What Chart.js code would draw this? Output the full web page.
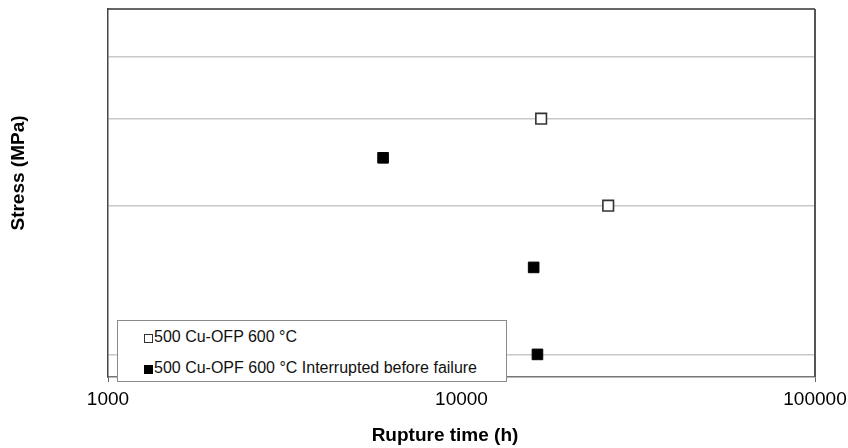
<!DOCTYPE html>
<html>
<head>
<meta charset="utf-8">
<script src="https://cdn.jsdelivr.net/npm/chart.js@4/dist/chart.umd.min.js"></script>
<style>
  body { margin: 0; background: #fff; }
  #wrap { position: relative; width: 848px; height: 448px; overflow: hidden; }
  #legend {
    position: absolute; left: 117px; top: 320px; width: 390px; height: 62px;
    box-sizing: border-box; border: 1px solid #8a8a8a; background: #fff;
    font: 16px "Liberation Sans", Arial, sans-serif; color: #111;
  }
  .item { position: absolute; left: 26px; height: 20px; line-height: 20px; white-space: nowrap; }
  .sym { display: inline-block; width: 9px; height: 9px; box-sizing: border-box; margin-right: 1px; vertical-align: -1px; }
  .open { border: 1px solid #333; background: #fff; }
  .filled { background: #000; }
</style>
</head>
<body>
<div id="wrap">
  <canvas id="c" width="848" height="448"></canvas>
  <div id="legend">
    <div class="item" style="top:6px"><span class="sym open"></span>500 Cu-OFP 600 °C</div>
    <div class="item" style="top:37px"><span class="sym filled"></span>500 Cu-OPF 600 °C Interrupted before failure</div>
  </div>
</div>
<script>
// rupture time (h) vs stress (MPa)
const ofpTime = [16800, 26000];
const ofpStress = [150, 100];
const interruptedTime = [6000, 16000, 16400];
const interruptedStress = [125, 75, 50];

const xTicks = [1000, 10000, 100000];
const yGrid = [50, 100, 150, 200];

const FONT = '"Liberation Sans", Arial, sans-serif';

// axis titles and the frame are drawn by hand to match the original layout
const framePlugin = {
  id: 'frame',
  afterDraw(chart) {
    const { ctx, chartArea: a } = chart;
    ctx.save();
    ctx.strokeStyle = '#333';
    ctx.lineWidth = 1.5;
    ctx.beginPath();
    ctx.moveTo(a.left, a.top);
    ctx.lineTo(a.right, a.top);
    ctx.stroke();
    ctx.strokeStyle = '#555';
    ctx.lineWidth = 2;
    ctx.beginPath();
    ctx.moveTo(a.right, a.top);
    ctx.lineTo(a.right, a.bottom);
    ctx.stroke();

    ctx.fillStyle = '#000';
    ctx.font = 'bold 19px ' + FONT;
    ctx.textAlign = 'center';
    ctx.textBaseline = 'middle';
    ctx.fillText('Rupture time (h)', 445, 436);
    ctx.translate(19, 173);
    ctx.rotate(-Math.PI / 2);
    ctx.fillText('Stress (MPa)', 0, 0);
    ctx.restore();
  }
};

new Chart(document.getElementById('c'), {
  type: 'scatter',
  data: {
    datasets: [
      {
        label: '500 Cu-OFP 600 °C',
        data: ofpTime.map((t, i) => ({ x: t, y: ofpStress[i] })),
        pointStyle: 'rect',
        pointRadius: 7.5,
        pointHoverRadius: 7.5,
        backgroundColor: '#fff',
        borderColor: '#333',
        borderWidth: 1.6
      },
      {
        label: '500 Cu-OPF 600 °C Interrupted before failure',
        data: interruptedTime.map((t, i) => ({ x: t, y: interruptedStress[i] })),
        pointStyle: 'rect',
        pointRadius: 7.5,
        pointHoverRadius: 7.5,
        backgroundColor: '#000',
        borderColor: '#000',
        borderWidth: 1
      }
    ]
  },
  options: {
    responsive: false,
    animation: false,
    devicePixelRatio: 1,
    layout: { padding: { left: 0, top: 8, right: 33, bottom: 0 } },
    plugins: { legend: { display: false }, tooltip: { enabled: false } },
    scales: {
      x: {
        type: 'logarithmic',
        min: 1000,
        max: 100000,
        afterBuildTicks: s => { s.ticks = xTicks.map(v => ({ value: v })); },
        afterFit: s => { s.height = 71; s.paddingLeft = 0; s.paddingRight = 0; },
        ticks: {
          color: '#000',
          font: { family: FONT, size: 19 },
          padding: 6,
          maxRotation: 0,
          autoSkip: false,
          callback: v => String(v)
        },
        grid: { drawOnChartArea: false, drawTicks: true, tickLength: 5, color: '#666' },
        border: { color: '#777', width: 1.5 }
      },
      y: {
        type: 'logarithmic',
        min: 45,
        max: 250,
        afterBuildTicks: s => { s.ticks = yGrid.map(v => ({ value: v })); },
        afterFit: s => { s.width = 108; },
        ticks: { display: false },
        grid: { drawTicks: false, color: '#c8c8c8', lineWidth: 1.5 },
        border: { color: '#444', width: 1.5 }
      }
    }
  },
  plugins: [framePlugin]
});
</script>
</body>
</html>
